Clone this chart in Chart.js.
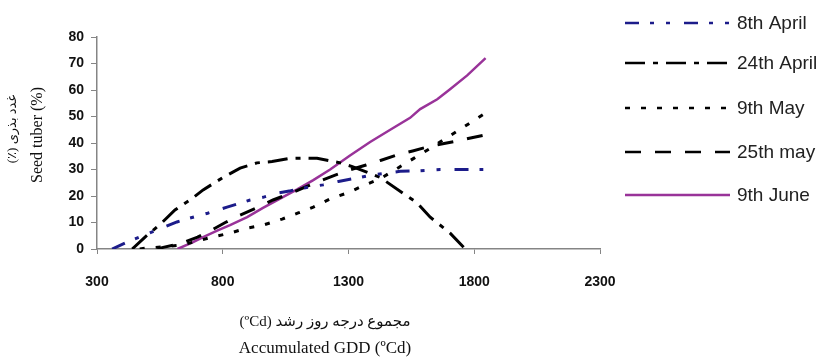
<!DOCTYPE html>
<html><head><meta charset="utf-8">
<script src="https://cdn.jsdelivr.net/npm/chart.js@4"></script>
<style>html,body{margin:0;padding:0;background:#fff;}#wrap{width:837px;height:358px;position:relative;}</style>
</head><body><div id="wrap"><canvas id="c" width="837" height="358"></canvas></div>
<script>
const seriesNames = ['8th April', '24th April', '9th May', '25th may', '9th June'];

const gdd8Apr  = [360,430,491,560,618,670,740,817,909,960,1016,1070,1120,1199,1260,1334,1398,1454,1505,1580,1664,1740,1836];
const seed8Apr = [0,3,5.3,8,10.2,11.7,13.5,15.8,18.5,19.5,21.1,22,23,24.2,25.5,26.8,28,28.7,29.3,29.5,30,30,30];

const gdd24Apr  = [440,491,559,610,670,722,801,869,936,996,1068,1120,1175,1267,1318,1426,1517,1573,1625,1704,1764];
const seed24Apr = [0,4.5,10,14.7,18.5,22.3,27,30.5,32.5,33,34.2,34.3,34.2,32.5,31,27,21,17.4,12,6,0];

const gdd9May  = [470,499,563,638,700,757,829,897,960,1036,1100,1160,1227,1299,1366,1426,1497,1561,1630,1696,1764,1836];
const seed9May = [0,0.4,0.8,1.5,3,4.5,6,7.9,9,11.3,13.6,15.8,18.9,21.3,24.2,26.5,30.6,34.3,38.3,42.3,46.4,50.8];

const gdd25May  = [540,563,630,700,757,810,869,935,1000,1070,1139,1190,1247,1310,1370,1430,1493,1555,1613,1680,1736,1790,1840];
const seed25May = [0,0.6,2,4.5,7.2,10,12.8,15.5,18.5,21,23.8,25.8,27.9,30,31.7,33.5,35.5,37,38.5,39.8,40.8,42,43];

const gdd9Jun  = [620,680,722,780,829,897,960,1028,1096,1160,1227,1306,1386,1466,1545,1585,1653,1700,1772,1845];
const seed9Jun = [0,2.5,4.5,7,9,12,15.5,19,22.5,26,30,35.3,40.4,45,49.5,52.8,56.5,60,65.5,72];

const xTicks = [300, 800, 1300, 1800, 2300];
const yTicks = [0, 10, 20, 30, 40, 50, 60, 70, 80];

const yTitleFa = 'غدد بذری (٪)';
const yTitleEn = 'Seed tuber (%)';
const xTitleFa = 'مجموع درجه روز رشد (ºCd)';
const xTitleEn = 'Accumulated GDD (ºCd)';

const pts = (xs, ys) => xs.map((x, i) => ({x: x, y: ys[i]}));
const styles = [
  {color: '#1c1c8a', dash: [14, 11, 4, 12, 4, 14]},
  {color: '#000000', dash: [20, 8, 5, 8]},
  {color: '#000000', dash: [5, 11]},
  {color: '#000000', dash: [16, 14]},
  {color: '#993399', dash: []}
];
const allData = [pts(gdd8Apr, seed8Apr), pts(gdd24Apr, seed24Apr), pts(gdd9May, seed9May), pts(gdd25May, seed25May), pts(gdd9Jun, seed9Jun)];

const datasets = allData.map((d, i) => ({
  label: seriesNames[i],
  data: d,
  borderColor: styles[i].color,
  backgroundColor: styles[i].color,
  borderDash: styles[i].dash,
  borderWidth: i === 4 ? 2.5 : 3,
  pointRadius: 0,
  fill: false,
  tension: 0
}));

const extras = {
  id: 'extras',
  afterDraw(chart) {
    const ctx = chart.ctx;
    ctx.save();
    const rows = [23, 63, 108, 152, 195];
    chart.data.datasets.forEach((ds, i) => {
      const y = rows[i];
      ctx.beginPath();
      ctx.strokeStyle = ds.borderColor;
      ctx.lineWidth = 2.5;
      ctx.setLineDash(ds.borderDash);
      ctx.moveTo(625, y);
      ctx.lineTo(730, y);
      ctx.stroke();
      ctx.setLineDash([]);
      ctx.fillStyle = '#222';
      ctx.font = '19px "Liberation Sans", Arial, sans-serif';
      ctx.textAlign = 'left';
      ctx.textBaseline = 'middle';
      ctx.fillText(ds.label, 737, y + 1);
    });
    ctx.fillStyle = '#111';
    ctx.textAlign = 'center';
    ctx.textBaseline = 'middle';
    ctx.direction = 'rtl';
    ctx.font = '15px "Liberation Serif", "DejaVu Sans", serif';
    ctx.fillText(xTitleFa, 325, 322);
    ctx.direction = 'ltr';
    ctx.font = '17px "Liberation Serif", "Times New Roman", serif';
    ctx.fillText(xTitleEn, 325, 349);
    ctx.save();
    ctx.translate(13, 129);
    ctx.rotate(-Math.PI / 2);
    ctx.direction = 'rtl';
    ctx.font = '13px "Liberation Serif", "DejaVu Sans", serif';
    ctx.fillText(yTitleFa, 0, 0);
    ctx.restore();
    ctx.save();
    ctx.translate(38, 135);
    ctx.rotate(-Math.PI / 2);
    ctx.direction = 'ltr';
    ctx.font = '16px "Liberation Serif", "Times New Roman", serif';
    ctx.fillText(yTitleEn, 0, 0);
    ctx.restore();
    ctx.restore();
  }
};

new Chart(document.getElementById('c'), {
  type: 'line',
  data: {datasets: datasets},
  plugins: [extras],
  options: {
    responsive: false,
    animation: false,
    devicePixelRatio: 1,
    layout: {padding: {left: 0, top: 37, right: 237, bottom: 0}},
    plugins: {legend: {display: false}, tooltip: {enabled: false}},
    scales: {
      x: {
        type: 'linear',
        min: 300, max: 2300,
        afterFit(s) { s.height = 109; },
        afterBuildTicks(s) { s.ticks = xTicks.map(v => ({value: v})); },
        grid: {display: true, drawOnChartArea: false, drawTicks: true, tickLength: 5, color: '#858585'},
        border: {color: '#858585', width: 1.5},
        ticks: {color: '#111', padding: 20, maxRotation: 0, callback: v => String(v),
                font: {family: '"Liberation Sans", Arial, sans-serif', size: 14, weight: 'bold'}}
      },
      y: {
        min: 0, max: 80,
        afterFit(s) { s.width = 97; },
        afterBuildTicks(s) { s.ticks = yTicks.map(v => ({value: v})); },
        grid: {display: true, drawOnChartArea: false, drawTicks: true, tickLength: 6, color: '#858585'},
        border: {color: '#858585', width: 1.5},
        ticks: {color: '#111', padding: 7, callback: v => String(v),
                font: {family: '"Liberation Sans", Arial, sans-serif', size: 14, weight: 'bold'}}
      }
    }
  }
});
</script></body></html>
